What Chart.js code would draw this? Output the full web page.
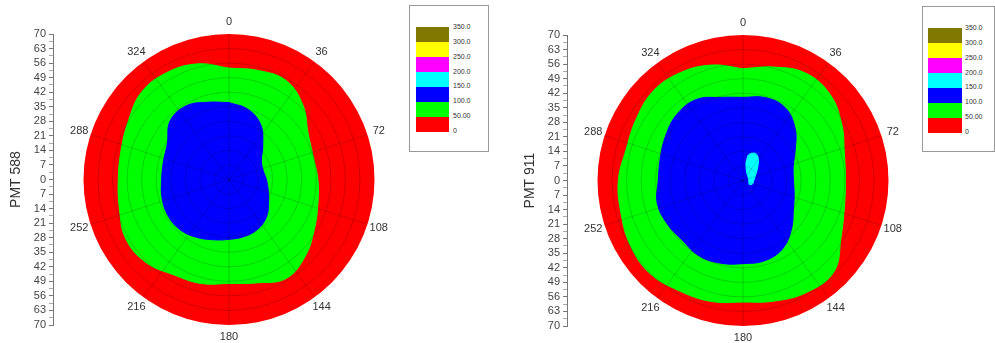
<!DOCTYPE html>
<html>
<head>
<meta charset="utf-8">
<script src="https://cdn.jsdelivr.net/npm/chart.js@4.4.0/dist/chart.umd.min.js"></script>
<style>
    body { margin: 0; width: 995px; height: 343px; overflow: hidden; position: relative; background: #fff; font-family: "Liberation Sans", Arial, sans-serif; }
    .plot { position: absolute; top: 0; }
    .legend { position: absolute; border: 1px solid #999; background: #fff; box-sizing: border-box; }
    .legend .sw { position: absolute; }
    .legend .lab { position: absolute; font-size: 7px; line-height: 8px; color: #333; transform: translateY(-50%); }
</style>
</head>
<body>
<div class="plot" style="left:0px"><canvas id="pmt588" width="405" height="343"></canvas></div>
<div class="plot" style="left:514px"><canvas id="pmt911" width="405" height="343"></canvas></div>
<div class="legend" id="legend588" style="left:409px; top:5px; width:80px; height:147px"></div>
<div class="legend" id="legend911" style="left:922px; top:6px; width:73px; height:146px"></div>
<script>
// boundary sample angles (deg, clockwise from top)
const angles = [0, 15, 30, 45, 60, 75, 90, 105, 120, 135, 150, 165, 180, 195, 210, 225, 240, 255, 270, 285, 300, 315, 330, 345];
const angleLabels = [0, 36, 72, 108, 144, 180, 216, 252, 288, 324];
const radialMax = 70;
const radialStep = 7;

// contour levels, lowest first
const levelColors = ['#ff0000', '#00ff00', '#0000ff', '#00ffff', '#ff00ff', '#ffff00', '#807800'];
const levelLabels = ['0', '50.00', '100.0', '150.0', '200.0', '250.0', '300.0', '350.0'];

// PMT 588 contour boundaries (radius at each angle)
const pmt588Green = [53.6, 54.3, 55, 50.4, 44, 42, 42.8, 44.3, 47.5, 52, 55, 51.5, 50, 51.8, 53, 56.5, 57.3, 54.6, 53.3, 53.8, 56, 59.5, 59.5, 57.6];
const pmt588Blue = [37, 35, 30.5, 23, 18, 17, 18, 19.5, 22, 25.5, 27.6, 28.4, 28.8, 30, 32, 33.8, 34.1, 33.4, 32.4, 32.7, 34.3, 40, 41, 38.5];

// PMT 911 contour boundaries
const pmt911Green = [53.8, 56.5, 59.8, 59, 54.8, 50.5, 49.3, 50.5, 54.5, 62, 62, 60, 58.5, 60.2, 61.3, 63.3, 62.6, 60.8, 60, 58.2, 59.3, 61, 60, 57.5];
const pmt911Blue = [40, 41.3, 40.5, 35.5, 29, 25, 24.3, 25.5, 28, 33, 38, 40, 40, 41.2, 42, 41, 42, 42.7, 40.8, 41.2, 43, 45, 45, 41.4];
const pmt911CyanX = [2.3, 3.9, 6.3, 7.4, 7.1, 6.3, 5.2, 4.7, 3.0, 2.7, 1.9, 1.4];
const pmt911CyanY = [12.0, 13.1, 12.9, 10.4, 6.4, 3.2, 0, -1.6, -1.9, 0.8, 3.2, 8.0];

const toRad = (deg) => deg * Math.PI / 180;

const polarOutline = (radii) => {
    const pts = angles.map((a, i) => ({ x: radii[i] * Math.sin(toRad(a)), y: radii[i] * Math.cos(toRad(a)) }));
    pts.push(pts[0]);
    return pts;
};

const xyOutline = (xs, ys) => {
    const pts = xs.map((x, i) => ({ x: x, y: ys[i] }));
    pts.push(pts[0]);
    return pts;
};

const region = (data, color, order, tension) => ({
    data: data,
    showLine: true,
    fill: 'shape',
    backgroundColor: color,
    borderColor: color,
    borderWidth: 1,
    pointRadius: 0,
    tension: tension,
    order: order
});

// red disc underneath, grid circles + spokes + angle labels on top
const polarFrame = {
    id: 'polarFrame',
    beforeDatasetsDraw(chart) {
        const { ctx, scales: { x, y } } = chart;
        const cx = x.getPixelForValue(0);
        const cy = y.getPixelForValue(0);
        const r = cy - y.getPixelForValue(radialMax);
        ctx.save();
        ctx.fillStyle = levelColors[0];
        ctx.beginPath();
        ctx.arc(cx, cy, r, 0, Math.PI * 2);
        ctx.fill();
        ctx.restore();
    },
    afterDatasetsDraw(chart) {
        const { ctx, scales: { x, y } } = chart;
        const cx = x.getPixelForValue(0);
        const cy = y.getPixelForValue(0);
        const R = cy - y.getPixelForValue(radialMax);
        ctx.save();
        ctx.strokeStyle = 'rgba(0,0,0,0.22)';
        ctx.lineWidth = 0.8;
        for (let v = radialStep; v < radialMax; v += radialStep) {
            const r = cy - y.getPixelForValue(v);
            ctx.beginPath();
            ctx.arc(cx, cy, r, 0, Math.PI * 2);
            ctx.stroke();
        }
        angleLabels.forEach(a => {
            ctx.beginPath();
            ctx.moveTo(cx, cy);
            ctx.lineTo(cx + R * Math.sin(toRad(a)), cy - R * Math.cos(toRad(a)));
            ctx.stroke();
        });
        ctx.fillStyle = '#333';
        ctx.font = '11px "Liberation Sans", Arial, sans-serif';
        ctx.textAlign = 'center';
        ctx.textBaseline = 'middle';
        angleLabels.forEach(a => {
            const d = R + 12;
            ctx.fillText(String(a), cx + d * Math.sin(toRad(a)), cy - d * Math.cos(toRad(a)));
        });
        ctx.restore();
    }
};

const makeChart = (id, title, datasets, padTop, padBottom) => {
    const isMajor = (v) => Math.abs(Math.round(v * 10) / 10) % radialStep === 0;
    return new Chart(document.getElementById(id).getContext('2d'), {
        type: 'scatter',
        data: { datasets: datasets },
        plugins: [polarFrame],
        options: {
            responsive: false,
            animation: false,
            events: [],
            layout: { padding: { top: padTop, bottom: padBottom, left: 0, right: 0 } },
            plugins: { legend: { display: false }, tooltip: { enabled: false } },
            scales: {
                x: { display: false, min: -84.7, max: 84.7 },
                y: {
                    min: -radialMax,
                    max: radialMax,
                    afterFit: (s) => { s.width = 53; },
                    border: { display: true, color: '#777' },
                    grid: {
                        drawOnChartArea: false,
                        tickLength: 4,
                        tickColor: (c) => (c.tick && isMajor(c.tick.value) ? '#777' : '#aaa')
                    },
                    ticks: {
                        stepSize: radialStep / 2,
                        autoSkip: false,
                        padding: 3,
                        color: '#444',
                        font: { size: 11, family: '"Liberation Sans", Arial, sans-serif' },
                        callback: (v) => (isMajor(v) ? String(Math.abs(Math.round(v))) : '')
                    },
                    title: {
                        display: true,
                        text: title,
                        color: '#333',
                        padding: { top: 8, bottom: 0 },
                        font: { size: 14, family: '"Liberation Sans", Arial, sans-serif' }
                    }
                }
            }
        }
    });
};

const buildLegend = (id, swLeft, swWidth, swTop, labLeft) => {
    const box = document.getElementById(id);
    const h = 14.86;
    const n = levelColors.length;
    levelColors.forEach((c, i) => {
        const sw = document.createElement('div');
        sw.className = 'sw';
        sw.style.cssText = `left:${swLeft}px; width:${swWidth}px; top:${swTop + (n - 1 - i) * h}px; height:${h + 0.5}px; background:${c};`;
        box.appendChild(sw);
    });
    levelLabels.forEach((t, j) => {
        const lab = document.createElement('div');
        lab.className = 'lab';
        lab.style.cssText = `left:${labLeft}px; top:${swTop + (n - j) * h}px;`;
        lab.textContent = t;
        box.appendChild(lab);
    });
};

window.addEventListener('DOMContentLoaded', () => {
    makeChart('pmt588', 'PMT 588', [
        region(polarOutline(pmt588Blue), levelColors[2], 1, 0.4),
        region(polarOutline(pmt588Green), levelColors[1], 2, 0.4)
    ], 34, 18);

    makeChart('pmt911', 'PMT 911', [
        region(xyOutline(pmt911CyanX, pmt911CyanY), levelColors[3], 0, 0.3),
        region(polarOutline(pmt911Blue), levelColors[2], 1, 0.4),
        region(polarOutline(pmt911Green), levelColors[1], 2, 0.4)
    ], 35, 17);

    buildLegend('legend588', 6, 33, 21, 43);
    buildLegend('legend911', 5, 34, 21, 42);
});
</script>
</body>
</html>
